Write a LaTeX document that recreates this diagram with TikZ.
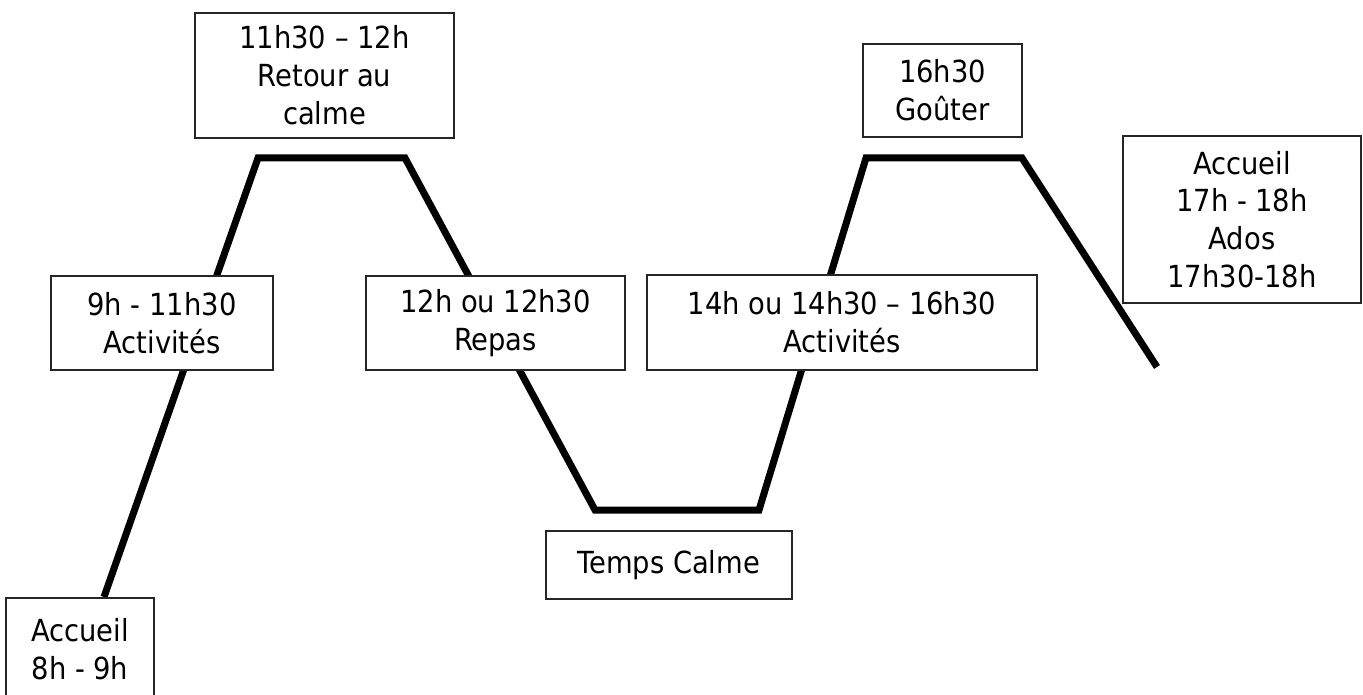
\documentclass[tikz,border=0pt]{standalone}
\usepackage{fontspec}
\IfFontExistsTF{DejaVu Sans Condensed}{\setmainfont{DejaVu Sans Condensed}}{\setmainfont{DejaVu Sans}}
\begin{document}
\begin{tikzpicture}[x=0.75pt,y=-0.75pt,
        slot/.style={draw=black!85,line width=1pt,fill=white,inner sep=0pt,align=center,
            font=\fontsize{22.8}{28.4}\selectfont}]
        \useasboundingbox (0,0) rectangle (1363,695);
        \clip (0,0) rectangle (1363,695);

        % courbe de la journee
        \draw[line width=5.25pt] (104,597) -- (258,158) -- (405,158) -- (595,510) -- (759,510)
            -- (866,158) -- (1022,158) -- (1157,367);

        \node[slot,minimum width=111pt,minimum height=76.5pt] (accueil) at (80,649) {Accueil\\8h - 9h};
        \node[slot,minimum width=166.5pt,minimum height=70.5pt] (matin) at (162,323) {9h - 11h30\\Activités};
        \node[slot,minimum width=194.25pt,minimum height=93.75pt] (retour) at (324.5,75.5) {11h30 – 12h\\Retour au\\calme};
        \node[slot,minimum width=194.25pt,minimum height=70.5pt] (repas) at (495.5,323) {12h ou 12h30\\Repas};
        \node[slot,minimum width=184.5pt,minimum height=51pt] (calme) at (669,565) {Temps Calme};
        \node[slot,minimum width=292.5pt,minimum height=71.25pt] (aprem) at (842,322.5) {14h ou 14h30 – 16h30\\Activités};
        \node[slot,minimum width=119.25pt,minimum height=69.75pt] (gouter) at (942.5,90.5) {16h30\\Goûter};
        \node[slot,minimum width=178.5pt,minimum height=125.25pt] (depart) at (1242,219.5) {Accueil\\17h - 18h\\Ados\\17h30-18h};
    \end{tikzpicture}
\end{document}
